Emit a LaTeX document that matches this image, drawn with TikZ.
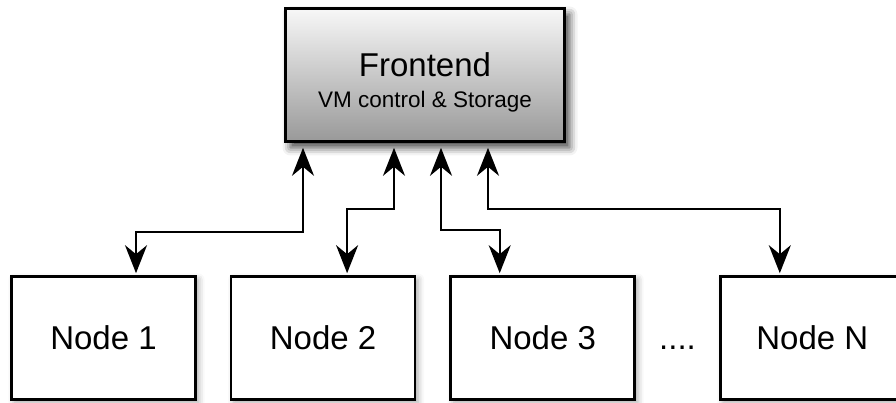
\documentclass[tikz,border=0pt]{standalone}
\usepackage{fontspec}
\setmainfont{Liberation Sans}
\usepackage{tikz}
\usetikzlibrary{positioning}
\usetikzlibrary{calc}
\usetikzlibrary{arrows.meta}
\usetikzlibrary{shadows.blur}

\begin{document}
\begin{tikzpicture}[x=1pt, y=1pt,
    hostbox/.style={draw, line width=2.6pt, fill=white, minimum width=184pt, minimum height=123pt,
        font=\fontsize{33}{38}\selectfont,
        blur shadow={shadow xshift=3pt, shadow yshift=-3pt, shadow blur radius=6pt, shadow opacity=35}},
    frontbox/.style={draw, line width=2.6pt, top color=gray!6, bottom color=gray!80,
        minimum width=279pt, minimum height=133pt, align=center,
        font=\fontsize{22.5}{31}\selectfont,
        blur shadow={shadow xshift=5pt, shadow yshift=-6pt, shadow blur radius=8pt, shadow opacity=75}},
    link/.style={{Stealth[length=28pt, width=22pt, inset=9pt]}-{Stealth[length=28pt, width=22pt, inset=9pt]},
        line width=2.4pt, shorten <=5pt, shorten >=2pt}]
    \useasboundingbox (0,0) rectangle (896,403);
    % compute nodes
    \node[hostbox] (n1) at (103.5,65) {Node 1};
    \node[hostbox, right=33pt of n1] (n2) {Node 2};
    \node[hostbox, right=33pt of n2] (n3) {Node 3};
    \node[hostbox, right=83pt of n3] (nN) {Node N};
    \node[anchor=base, font=\fontsize{33}{38}\selectfont] (dots) at ($(n3.base)!0.5!(nN.base)$) {....};
    % frontend
    \node[frontbox] (frontend) at (425,328)
        {{\fontsize{33}{31}\selectfont\rule{0pt}{38pt}Frontend}\\VM control \& Storage};
    % links
    \draw[link] ([xshift=-122pt]frontend.south) -- ++(0,-89pt) -| ([xshift=32.5pt]n1.north);
    \draw[link] ([xshift=-31pt]frontend.south) -- ++(0,-66pt) -| ([xshift=24pt]n2.north);
    \draw[link] ([xshift=16pt]frontend.south) -- ++(0,-87pt) -| ([xshift=-43pt]n3.north);
    \draw[link] ([xshift=63pt]frontend.south) -- ++(0,-66pt) -| ([xshift=-32.5pt]nN.north);
\end{tikzpicture}
\end{document}
